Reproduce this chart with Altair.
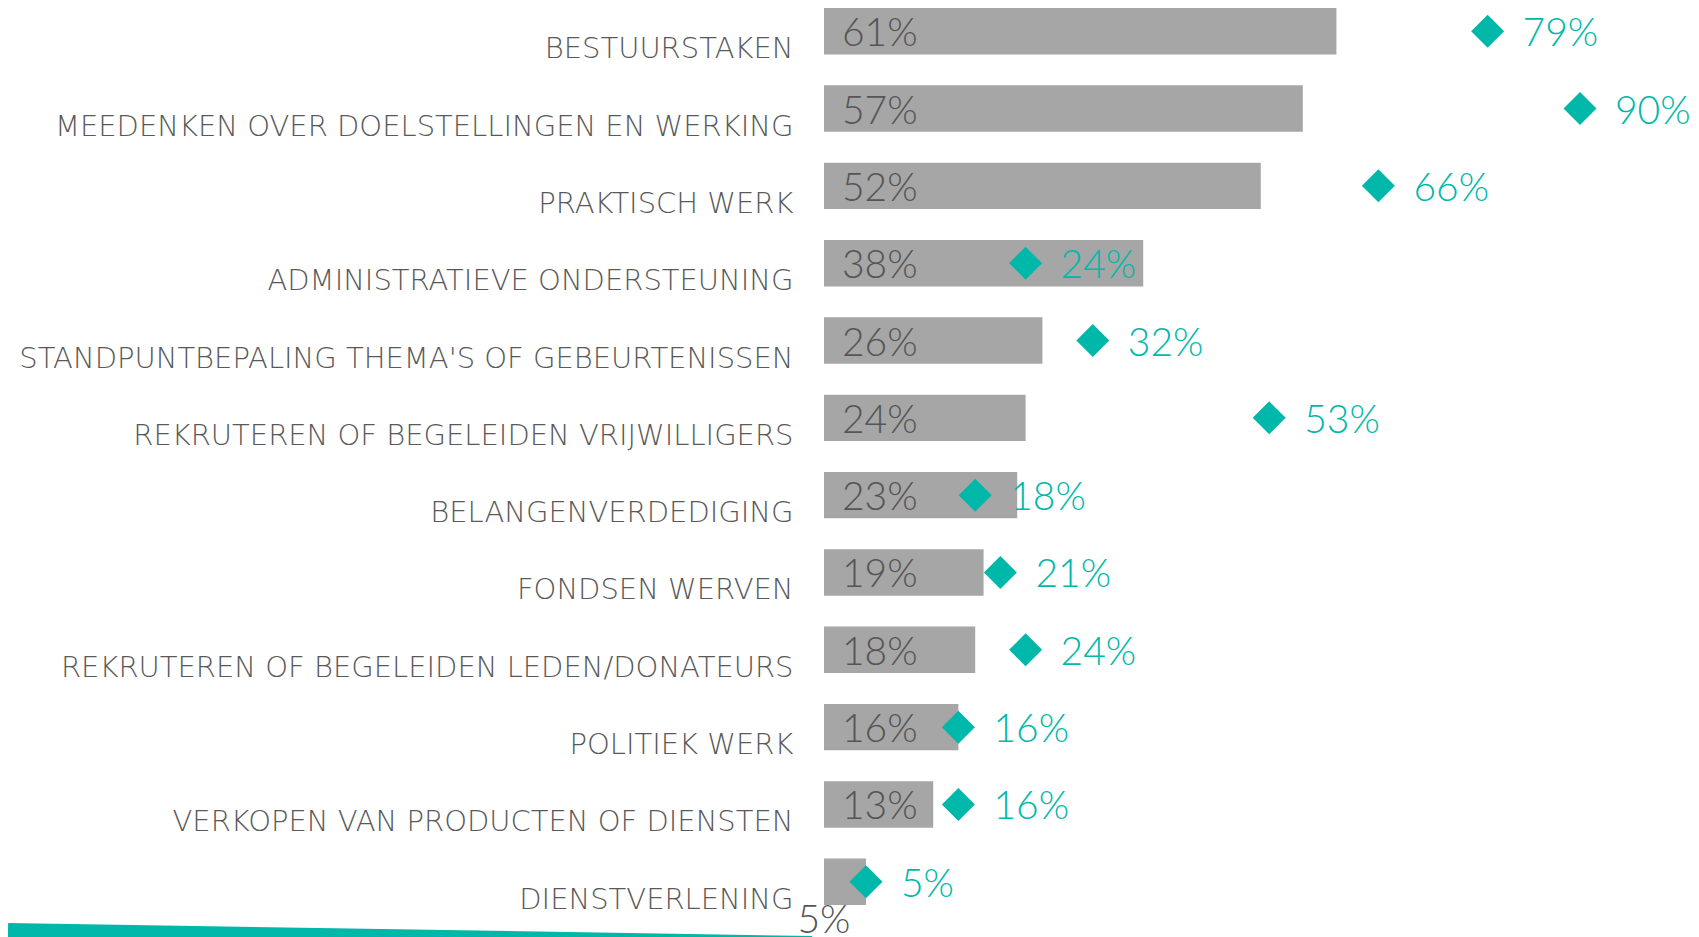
import altair as alt
import pandas as pd

categories = [
    "Bestuurstaken",
    "Meedenken over doelstellingen en werking",
    "Praktisch werk",
    "Administratieve ondersteuning",
    "Standpuntbepaling thema's of gebeurtenissen",
    "Rekruteren of begeleiden vrijwilligers",
    "Belangenverdediging",
    "Fondsen werven",
    "Rekruteren of begeleiden  leden/donateurs",
    "Politiek werk",
    "Verkopen van producten of diensten",
    "Dienstverlening",
]
bar_values = [61, 57, 52, 38, 26, 24, 23, 19, 18, 16, 13, 5]
diamond_values = [79, 90, 66, 24, 32, 53, 18, 21, 24, 16, 16, 5]

TEAL = "#00B8AA"
GREY_BAR = "#A6A6A6"
TEXT_DARK = "#555555"

df = pd.DataFrame({"cat": categories, "bar": bar_values, "dia": diamond_values})

base = alt.Chart(df).transform_calculate(
    bar_lbl="datum.bar + '%'",
    dia_lbl="datum.dia + '%'",
    zero="0",
)

y_enc = alt.Y(
    "cat:N",
    sort=categories,
    title=None,
    scale=alt.Scale(paddingInner=0.4, paddingOuter=0),
    axis=alt.Axis(
        domain=False,
        ticks=False,
        grid=False,
        labelFont="DejaVu Sans",
        labelFontWeight=200,
        labelFontSize=29,
        labelColor="#595959",
        labelPadding=31,
        labelLimit=0,
        labelOffset=27,
        labelBaseline="alphabetic",
        labelExpr="upper(datum.label)",
    ),
)
x_scale = alt.Scale(domain=[0, 100])

bars = base.mark_bar(color=GREY_BAR).encode(
    x=alt.X("bar:Q", scale=x_scale, axis=None),
    y=y_enc,
)

bar_text = base.transform_filter("datum.bar >= 10").mark_text(
    align="left", baseline="middle", dx=18, dy=3, font="Lato", fontWeight=300,
    fontSize=39, color=TEXT_DARK,
).encode(x=alt.X("zero:Q", scale=x_scale, axis=None), y=y_enc, text="bar_lbl:N")

bar_text_small = base.transform_filter("datum.bar < 10").mark_text(
    align="center", baseline="middle", dy=39, font="Lato", fontWeight=300,
    fontSize=39, color=TEXT_DARK,
).encode(x=alt.X("zero:Q", scale=x_scale, axis=None), y=y_enc, text="bar_lbl:N")

diamonds = base.mark_point(
    shape="diamond", filled=True, size=1089, color=TEAL, opacity=1
).encode(x=alt.X("dia:Q", scale=x_scale, axis=None), y=y_enc)

dia_text = base.mark_text(
    align="left", baseline="middle", dx=35, dy=3, font="Lato", fontWeight=300,
    fontSize=39, color=TEAL,
).encode(x=alt.X("dia:Q", scale=x_scale, axis=None), y=y_enc, text="dia_lbl:N")

# decorative teal band along the bottom-left edge
wedge = base.transform_filter("datum.bar < 10").mark_rule(
    color=TEAL, strokeWidth=14, strokeCap="butt"
).encode(
    x=alt.value(-816), x2=alt.value(-12), y=alt.value(922), y2=alt.value(935)
)

chart = alt.layer(bars, bar_text, bar_text_small, diamonds, dia_text, wedge).properties(
    width=840,
    height=897,
    padding={"left": 816, "top": 0, "right": 27, "bottom": 32},
    autosize=alt.AutoSizeParams(type="none"),
).configure_view(strokeWidth=0)

chart.save("out.html", embed_options={"renderer": "svg", "actions": False})
